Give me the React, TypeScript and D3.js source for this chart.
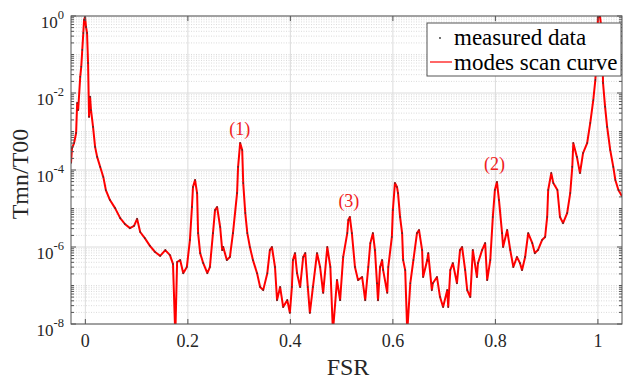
import React, { useEffect, useRef } from "react";
import * as d3 from "d3";

// FSR positions
const fsr = [
  -0.028, -0.026, -0.022, -0.018, -0.016, -0.014, -0.01, -0.008, -0.006, -0.004,
  -0.0025, -0.0006, 0.0014, 0.0033, 0.0053, 0.0072, 0.0092, 0.011, 0.015, 0.019,
  0.023, 0.029, 0.035, 0.04, 0.048, 0.058, 0.068, 0.077, 0.087, 0.095,
  0.101, 0.107, 0.116, 0.126, 0.136, 0.146, 0.156, 0.165, 0.171, 0.1755,
  0.179, 0.185, 0.191, 0.198, 0.204, 0.208, 0.21, 0.214, 0.218, 0.22,
  0.224, 0.23, 0.238, 0.243, 0.249, 0.253, 0.257, 0.263, 0.267, 0.269,
  0.276, 0.282, 0.288, 0.296, 0.298, 0.302, 0.306, 0.308, 0.312, 0.316,
  0.321, 0.327, 0.335, 0.341, 0.347, 0.355, 0.36, 0.364, 0.37, 0.374,
  0.38, 0.386, 0.394, 0.399, 0.403, 0.405, 0.409, 0.413, 0.419, 0.425,
  0.429, 0.434, 0.438, 0.444, 0.452, 0.458, 0.464, 0.472, 0.478, 0.483,
  0.491, 0.497, 0.503, 0.511, 0.513, 0.516, 0.52, 0.526, 0.532, 0.54,
  0.546, 0.552, 0.556, 0.561, 0.565, 0.569, 0.571, 0.575, 0.579, 0.581,
  0.589, 0.591, 0.598, 0.6, 0.604, 0.608, 0.61, 0.614, 0.618, 0.62,
  0.624, 0.628, 0.634, 0.64, 0.647, 0.651, 0.657, 0.659, 0.667, 0.669,
  0.676, 0.678, 0.686, 0.692, 0.698, 0.706, 0.708, 0.712, 0.717, 0.725,
  0.731, 0.735, 0.741, 0.745, 0.751, 0.756, 0.764, 0.766, 0.774, 0.78,
  0.784, 0.79, 0.795, 0.799, 0.803, 0.807, 0.813, 0.815, 0.823, 0.829,
  0.835, 0.842, 0.848, 0.852, 0.858, 0.864, 0.872, 0.877, 0.883, 0.891,
  0.897, 0.901, 0.903, 0.909, 0.913, 0.921, 0.926, 0.932, 0.94, 0.946,
  0.95, 0.952, 0.959, 0.965, 0.971, 0.979, 0.985, 0.991, 0.995, 0.999,
  1.0, 1.004, 1.008, 1.01, 1.014, 1.018, 1.024, 1.03, 1.034, 1.04, 1.047,
];

// log10(Tmn/T00) at each position
const logT = [
  -3.82, -3.43, -3.3, -3.04, -2.26, -2.44, -1.58, -1.32, -0.88, -0.44,
  -0.1, -0.03, -0.29, -0.44, -1.22, -2.62, -2.1, -2.44, -2.88, -3.4,
  -3.66, -3.92, -4.18, -4.52, -4.78, -4.99, -5.25, -5.4, -5.51, -5.45,
  -5.27, -5.61, -5.77, -5.97, -6.13, -6.23, -6.08, -6.21, -6.44, -8.3,
  -6.39, -6.34, -6.68, -6.52, -5.82, -4.96, -4.44, -4.26, -4.6, -5.64,
  -6.16, -6.42, -6.68, -6.52, -5.64, -5.04, -4.96, -5.48, -6.08, -6.0,
  -6.34, -6.26, -5.64, -4.6, -3.92, -3.3, -3.48, -4.34, -5.12, -5.64,
  -6.0, -6.34, -6.68, -7.04, -7.12, -6.68, -6.08, -6.0, -6.52, -7.38,
  -7.04, -7.56, -7.38, -7.71, -7.04, -6.34, -6.16, -6.68, -7.04, -6.26,
  -6.16, -7.04, -7.71, -7.04, -6.16, -6.52, -7.19, -6.0, -6.52, -8.2,
  -6.86, -7.38, -6.26, -5.64, -5.3, -5.22, -5.64, -6.52, -6.86, -6.78,
  -7.38, -6.52, -5.9, -5.64, -6.08, -6.94, -7.38, -6.52, -6.34, -6.6,
  -7.19, -6.52, -5.74, -5.04, -4.34, -4.44, -4.6, -5.22, -5.64, -6.34,
  -6.6, -8.2, -6.94, -6.34, -5.64, -5.56, -6.08, -6.78, -6.34, -6.16,
  -7.12, -6.94, -6.78, -7.3, -7.56, -7.12, -7.56, -6.6, -6.42, -6.94,
  -6.08, -6.0, -6.6, -7.12, -7.3, -6.08, -6.78, -6.42, -6.08, -5.9,
  -6.86, -6.34, -5.22, -4.52, -4.31, -4.78, -5.64, -6.0, -5.56, -6.08,
  -6.52, -6.26, -6.42, -6.6, -6.26, -5.64, -5.9, -6.16, -6.08, -5.82,
  -5.74, -5.22, -4.52, -4.08, -4.34, -4.52, -5.22, -5.38, -5.12, -4.6,
  -3.92, -3.3, -3.66, -4.08, -3.56, -3.3, -2.78, -2.18, -1.66, -0.88,
  -0.03, -0.01, -0.44, -1.74, -2.36, -2.88, -3.48, -3.92, -4.26, -4.52, -4.68,
];

const xTicks = [0, 0.2, 0.4, 0.6, 0.8, 1];
const yTickExp = [0, -2, -4, -6, -8];
const peakLabels = ["(1)", "(2)", "(3)"];
const peakFsr = [0.307, 0.804, 0.52];
const peakLog = [-3.1, -4.0, -4.95];
const legendItems = ["measured data", "modes scan curve"];

const W = 624;
const H = 381;
const margin = { left: 71, right: 2, top: 16, bottom: 57 };
const font = "'Liberation Serif', 'Times New Roman', serif";

export default function App() {
  const ref = useRef<SVGSVGElement>(null);

  useEffect(() => {
    const svg = d3.select(ref.current);
    svg.selectAll("*").remove();
    const iw = W - margin.left - margin.right;
    const ih = H - margin.top - margin.bottom;

    const x = d3.scaleLinear().domain([-0.028, 1.047]).range([0, iw]);
    const y = d3.scaleLog().domain([1e-8, 1]).range([ih, 0]);

    const pts = fsr.map((f, i) => ({ f, t: Math.pow(10, logT[i]) }));

    svg.append("rect").attr("width", W).attr("height", H).attr("fill", "#fff");

    svg
      .append("defs")
      .append("clipPath")
      .attr("id", "plotclip")
      .append("rect")
      .attr("width", iw)
      .attr("height", ih);

    const g = svg
      .append("g")
      .attr("transform", `translate(${margin.left},${margin.top})`);

    // minor grid (log)
    const minor: number[] = [];
    for (let e = -8; e < 0; e++) {
      for (let k = 1; k <= 9; k++) {
        const v = k * Math.pow(10, e);
        if (k === 1 && e % 2 === 0) continue;
        minor.push(v);
      }
    }
    g.selectAll(".minor")
      .data(minor)
      .enter()
      .append("line")
      .attr("x1", 0)
      .attr("x2", iw)
      .attr("y1", (d) => y(d))
      .attr("y2", (d) => y(d))
      .attr("stroke", "#d2d2d2")
      .attr("stroke-width", 0.8)
      .attr("stroke-dasharray", "1,1.5");

    // major grid
    g.selectAll(".gy")
      .data(yTickExp)
      .enter()
      .append("line")
      .attr("x1", 0)
      .attr("x2", iw)
      .attr("y1", (d) => y(Math.pow(10, d)))
      .attr("y2", (d) => y(Math.pow(10, d)))
      .attr("stroke", "#dcdcdc");
    g.selectAll(".gx")
      .data(xTicks)
      .enter()
      .append("line")
      .attr("x1", (d) => x(d))
      .attr("x2", (d) => x(d))
      .attr("y1", 0)
      .attr("y2", ih)
      .attr("stroke", "#dcdcdc");

    // curve
    const line = d3
      .line<{ f: number; t: number }>()
      .x((d) => x(d.f))
      .y((d) => y(d.t));
    const plot = g.append("g").attr("clip-path", "url(#plotclip)");
    plot
      .append("path")
      .datum(pts)
      .attr("d", line)
      .attr("fill", "none")
      .attr("stroke", "#ff0000")
      .attr("stroke-width", 2)
      .attr("stroke-linejoin", "round");

    // measured data points
    plot
      .selectAll(".pt")
      .data(pts)
      .enter()
      .append("circle")
      .attr("cx", (d) => x(d.f))
      .attr("cy", (d) => y(d.t))
      .attr("r", 0.8)
      .attr("fill", "#333");

    // frame
    g.append("rect")
      .attr("width", iw)
      .attr("height", ih)
      .attr("fill", "none")
      .attr("stroke", "#555")
      .attr("stroke-width", 1);

    // ticks
    const tk = g.append("g").attr("stroke", "#555");
    xTicks.forEach((d) => {
      tk.append("line").attr("x1", x(d)).attr("x2", x(d)).attr("y1", ih).attr("y2", ih - 5);
      tk.append("line").attr("x1", x(d)).attr("x2", x(d)).attr("y1", 0).attr("y2", 5);
    });
    yTickExp.forEach((d) => {
      const yy = y(Math.pow(10, d));
      tk.append("line").attr("x1", 0).attr("x2", 5).attr("y1", yy).attr("y2", yy);
      tk.append("line").attr("x1", iw).attr("x2", iw - 5).attr("y1", yy).attr("y2", yy);
    });
    minor.forEach((d) => {
      const yy = y(d);
      tk.append("line").attr("x1", 0).attr("x2", 3).attr("y1", yy).attr("y2", yy);
      tk.append("line").attr("x1", iw).attr("x2", iw - 3).attr("y1", yy).attr("y2", yy);
    });

    // x tick labels
    g.selectAll(".xl")
      .data(xTicks)
      .enter()
      .append("text")
      .attr("x", (d) => x(d))
      .attr("y", ih + 23)
      .attr("text-anchor", "middle")
      .attr("font-family", font)
      .attr("font-size", 18)
      .attr("fill", "#262626")
      .text((d) => d3.format("")(d));

    // y tick labels 10^n
    yTickExp.forEach((d) => {
      const yy = y(Math.pow(10, d));
      const t = g
        .append("text")
        .attr("x", -7)
        .attr("y", yy + 12)
        .attr("text-anchor", "end")
        .attr("font-family", font)
        .attr("font-size", 17)
        .attr("fill", "#262626");
      t.append("tspan").text("10");
      t.append("tspan")
        .attr("dy", -9)
        .attr("font-size", 12.5)
        .text(d === 0 ? "0" : `-${-d}`);
    });

    // axis labels
    svg
      .append("text")
      .attr("x", 348)
      .attr("y", 375)
      .attr("text-anchor", "middle")
      .attr("font-family", font)
      .attr("font-size", 24)
      .attr("fill", "#262626")
      .text("FSR");
    svg
      .append("text")
      .attr("transform", `translate(28,${margin.top + ih / 2 + 4}) rotate(-90)`)
      .attr("text-anchor", "middle")
      .attr("font-family", font)
      .attr("font-size", 24)
      .attr("fill", "#262626")
      .text("Tmn/T00");

    // peak annotations
    peakLabels.forEach((s, i) => {
      g.append("text")
        .attr("x", x(peakFsr[i]) - 3)
        .attr("y", y(Math.pow(10, peakLog[i])))
        .attr("text-anchor", "middle")
        .attr("font-family", font)
        .attr("font-size", 18)
        .attr("fill", "#f02020")
        .text(s);
    });

    // legend
    const lg = svg.append("g").attr("transform", "translate(427,23)");
    lg.append("rect")
      .attr("width", 194)
      .attr("height", 53)
      .attr("fill", "#fff")
      .attr("stroke", "#555");
    lg.append("circle").attr("cx", 13).attr("cy", 15).attr("r", 0.9).attr("fill", "#333");
    lg.append("line")
      .attr("x1", 3)
      .attr("x2", 25)
      .attr("y1", 39)
      .attr("y2", 39)
      .attr("stroke", "#ff0000")
      .attr("stroke-width", 1.2);
    legendItems.forEach((s, i) => {
      lg.append("text")
        .attr("x", 27)
        .attr("y", 22 + i * 25)
        .attr("font-family", font)
        .attr("font-size", 23)
        .attr("fill", "#000")
        .text(s);
    });
  }, []);

  return (
    <svg
      ref={ref}
      width={W}
      height={H}
      style={{ position: "absolute", left: 0, top: 0, display: "block" }}
    />
  );
}
